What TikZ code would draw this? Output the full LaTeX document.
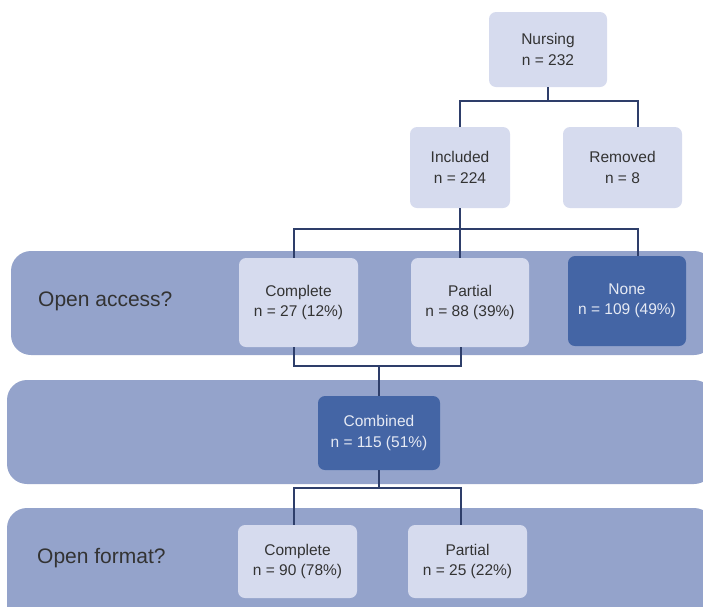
\documentclass[tikz,border=0pt]{standalone}
\usepackage{fontspec}
\setmainfont{Liberation Sans}
\definecolor{bandc}{HTML}{94A3CB}
\definecolor{lightbox}{HTML}{D6DBEE}
\definecolor{darkbox}{HTML}{4465A5}
\definecolor{linec}{HTML}{2E3E6A}
\definecolor{txt}{HTML}{333333}
\definecolor{dtxt}{HTML}{E6EAF4}
\tikzset{
  lbox/.style={rectangle, rounded corners=7pt, fill=lightbox, text=txt, align=center,
    font=\fontsize{15.5}{20.5}\selectfont, inner sep=0pt},
  dbox/.style={lbox, fill=darkbox, text=dtxt},
  bandfill/.style={fill=bandc, rounded corners=20pt},
  conn/.style={draw=linec, line width=1.1pt},
  bandlabel/.style={anchor=west, text=txt, font=\fontsize{21}{25}\selectfont, inner sep=0pt}
}
\begin{document}
\begin{tikzpicture}[x=1pt, y=-1pt]
\useasboundingbox (0,0) rectangle (703,606);
% bands
\fill[bandfill] (11,251) rectangle (714,355);
\fill[bandfill] (7,380) rectangle (714,484);
\fill[bandfill] (7,508) rectangle (714,630);
\node[bandlabel] (oa) at (38,301) {Open access?};
\node[bandlabel] (of) at (37,558) {Open format?};
% boxes
\node[lbox, minimum width=118pt, minimum height=75pt] (nursing) at (548,49.5) {Nursing\\n = 232};
\node[lbox, minimum width=100pt, minimum height=81pt] (included) at (460,167.5) {Included\\n = 224};
\node[lbox, minimum width=119pt, minimum height=81pt] (removed) at (622.5,167.5) {Removed\\n = 8};
\node[lbox, minimum width=119pt, minimum height=89pt] (complete) at (298.5,302.5) {Complete\\n = 27 (12\%)};
\node[lbox, minimum width=118pt, minimum height=89pt] (partial) at (470,302.5) {Partial\\n = 88 (39\%)};
\node[dbox, minimum width=118pt, minimum height=90pt] (none) at (627,301) {None\\n = 109 (49\%)};
\node[dbox, minimum width=122pt, minimum height=74pt] (combined) at (379,433) {Combined\\n = 115 (51\%)};
\node[lbox, minimum width=119pt, minimum height=73pt] (comp2) at (297.5,561.5) {Complete\\n = 90 (78\%)};
\node[lbox, minimum width=119pt, minimum height=73pt] (part2) at (467.5,561.5) {Partial\\n = 25 (22\%)};
% connector coordinates
\coordinate (j1) at (548,101);
\coordinate (r1) at (638,101);
\coordinate (j2) at (460,229);
\coordinate (a1) at (294,229);
\coordinate (a3) at (638,229);
\coordinate (b1) at (294,366);
\coordinate (b2) at (461,366);
\coordinate (b3) at (379,366);
\coordinate (c0) at (379,488);
\coordinate (c1) at (294,488);
\coordinate (c2) at (461,488);
% connectors
\draw[conn] (nursing.south) -- (j1);
\draw[conn] (included.north) |- (r1) -- (r1 |- removed.north);
\draw[conn] (included.south) -- (j2) -- (j2 |- partial.north);
\draw[conn] (a1 |- complete.north) -- (a1) -- (a3) -- (a3 |- none.north);
\draw[conn] (b1 |- complete.south) -- (b1) -- (b2) -- (b2 |- partial.south);
\draw[conn] (b3) -- (combined.north);
\draw[conn] (combined.south) -- (c0);
\draw[conn] (c1 |- comp2.north) -- (c1) -- (c2) -- (c2 |- part2.north);
\end{tikzpicture}
\end{document}
